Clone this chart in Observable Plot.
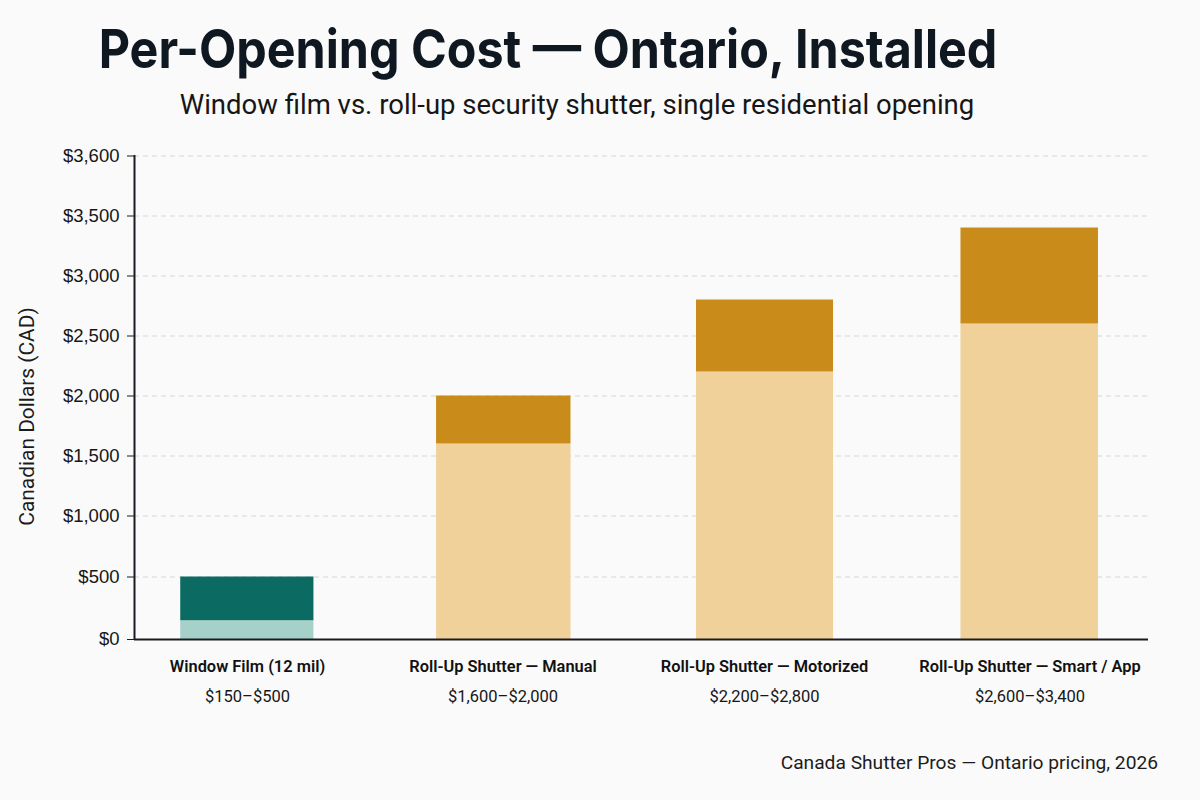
<!DOCTYPE html>
<html>
<head>
<meta charset="utf-8">
<script src="https://cdn.jsdelivr.net/npm/d3@7"></script>
<script src="https://cdn.jsdelivr.net/npm/@observablehq/plot@0.6"></script>
<style>
html,body{margin:0;padding:0;background:#fafafa;}
body{width:1200px;height:800px;overflow:hidden;position:relative;}
#title{position:absolute;left:0;width:1096px;top:17px;text-align:center;white-space:nowrap;font:700 54px/64px Inter,sans-serif;color:#0f1720;transform:scaleX(0.896);transform-origin:548px 0;}
#subtitle{position:absolute;left:0;width:1154px;top:87px;text-align:center;font:400 27.5px/36px Roboto,sans-serif;color:#161616;}
#caption{position:absolute;right:42px;top:751px;font:400 19.2px/24px Roboto,sans-serif;color:#1c1c1c;}
#chart{position:absolute;left:0;top:130px;}
svg{background:transparent!important;}
</style>
</head>
<body>
<div id="title">Per-Opening Cost — Ontario, Installed</div>
<div id="subtitle">Window film vs. roll-up security shutter, single residential opening</div>
<div id="chart"></div>
<div id="caption">Canada Shutter Pros — Ontario pricing, 2026</div>
<script>
const categories = ["Window Film (12 mil)", "Roll-Up Shutter — Manual", "Roll-Up Shutter — Motorized", "Roll-Up Shutter — Smart / App"];
const rangeLabels = ["$150–$500", "$1,600–$2,000", "$2,200–$2,800", "$2,600–$3,400"];
const lowValues = [150, 1600, 2200, 2600];
const highValues = [500, 2000, 2800, 3400];
const lightColors = ["#a6d1c9", "#efd199", "#efd199", "#efd199"];
const darkColors = ["#0b6b63", "#c98c1b", "#c98c1b", "#c98c1b"];
const yTicks = [0, 500, 1000, 1500, 2000, 2500, 3000, 3500, 3600];

const rows = categories.map((c, i) => ({
  i, category: c, low: lowValues[i], high: highValues[i],
  light: lightColors[i], dark: darkColors[i]
}));
const halfBar = 0.26;
const indices = categories.map((_, i) => i);

const chart = Plot.plot({
  width: 1200,
  height: 600,
  marginTop: 25,
  marginBottom: 91,
  marginLeft: 134,
  marginRight: 52,
  style: {background: "transparent", overflow: "visible"},
  x: {type: "linear", domain: [-0.44, 0, 1, 2, 3, 3.45], range: [134, 247, 502.5, 764, 1029.5, 1148]},
  y: {type: "linear", domain: yTicks, range: [509, 446.5, 385.5, 325.5, 265.5, 205.5, 145.5, 85.5, 25.5]},
  marks: [
    Plot.gridY(yTicks, {stroke: "#d6d6d6", strokeOpacity: 1, strokeDasharray: "5,4", strokeWidth: 1}),
    Plot.rectY(rows, {x1: d => d.i - halfBar, x2: d => d.i + halfBar, y1: 0, y2: "low", fill: d => d.light}),
    Plot.rectY(rows, {x1: d => d.i - halfBar, x2: d => d.i + halfBar, y1: "low", y2: "high", fill: d => d.dark}),
    Plot.axisY(yTicks, {
      anchor: "left", label: null, tickSize: 7, tickPadding: 8,
      tickFormat: d3.format("$,"), fontSize: 18.5, stroke: "#1a1a22",
      fontFamily: "Liberation Sans, Arial, sans-serif", fill: "#161616"
    }),
    Plot.axisX(indices, {
      anchor: "bottom", label: null, tickSize: 0, tickPadding: 21,
      tickFormat: i => categories[i], fontSize: 16.4, fontWeight: 600,
      fontFamily: "Roboto, sans-serif", fill: "#111"
    }),
    Plot.axisX(indices, {
      anchor: "bottom", label: null, tickSize: 0, tickPadding: 51,
      tickFormat: i => rangeLabels[i], fontSize: 16.5,
      fontFamily: "Roboto, sans-serif", fill: "#161616"
    }),
    Plot.ruleX([-0.44], {stroke: "#1a1a22", strokeWidth: 2}),
    Plot.ruleY([0], {stroke: "#1a1a22", strokeWidth: 2}),
    Plot.text(["Canadian Dollars (CAD)"], {
      frameAnchor: "left", dx: -107, dy: 19, rotate: -90, fontSize: 20.9,
      fontFamily: "Roboto, sans-serif", fill: "#1c1c1c", textAnchor: "middle"
    })
  ]
});
document.getElementById("chart").appendChild(chart);
</script>
</body>
</html>
